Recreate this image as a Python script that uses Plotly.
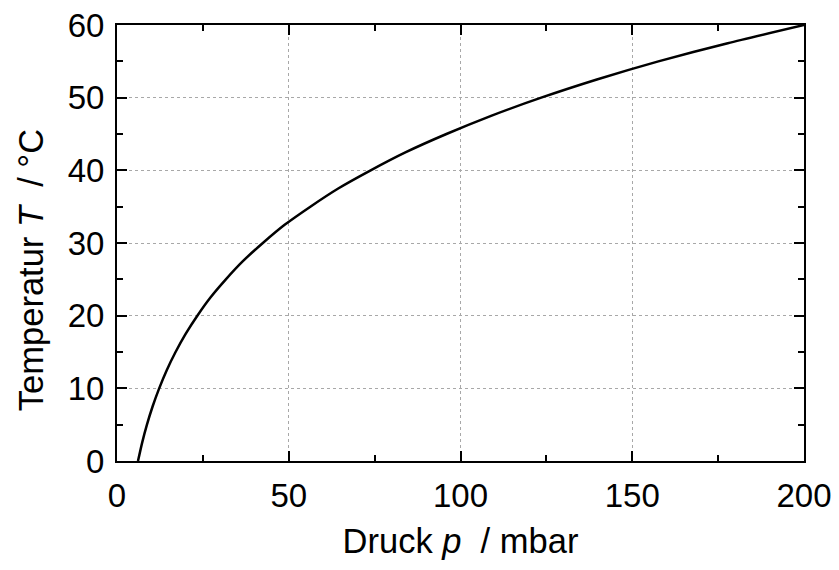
import plotly.graph_objects as go

# Saturation vapour pressure of water
temperature_c = [0, 2.5, 5, 7.5, 10, 12.5, 15, 17.5, 20, 22.5, 25, 27.5, 30,
                 32.5, 35, 37.5, 40, 42.5, 45, 47.5, 50, 52.5, 55, 57.5, 60]
pressure_mbar = [6.11, 7.31, 8.72, 10.36, 12.28, 14.48, 17.05, 19.98, 23.39, 27.2,
                 31.69, 36.65, 42.46, 48.8, 56.29, 64.4, 73.85, 84.1, 95.90, 108.9,
                 123.5, 139.7, 157.6, 177.8, 200.0]

x_ticks = [0, 50, 100, 150, 200]
y_ticks = [0, 10, 20, 30, 40, 50, 60]

FONT = "Liberation Sans, Arial, sans-serif"
FS = 33
FT = 34.5

fig = go.Figure()
fig.add_trace(go.Scatter(
    x=pressure_mbar, y=temperature_c, mode="lines",
    line=dict(color="black", width=2.5, shape="spline", smoothing=0.6),
    showlegend=False, hoverinfo="skip", cliponaxis=False,
))

axis_common = dict(
    showline=True, linecolor="black", linewidth=2, mirror="allticks",
    ticks="inside", ticklen=10, tickwidth=1.5, tickcolor="black",
    showgrid=True, gridcolor="#a8a8a8", griddash="dot", gridwidth=1,
    zeroline=False, automargin=False,
    tickfont=dict(family=FONT, size=FS, color="black"),
    minor=dict(ticks="inside", ticklen=6, tickwidth=1.5, tickcolor="black", showgrid=False),
)

fig.update_xaxes(
    range=[0, 200], tickvals=x_ticks, ticktext=[str(v) for v in x_ticks],
    minor_dtick=25, minor_tick0=0,
    title=dict(text="Druck <i>p</i>  / mbar", font=dict(family=FONT, size=FT, color="black"), standoff=16),
    ticklabelstandoff=4,
    **axis_common,
)
fig.update_yaxes(
    range=[0, 60], tickvals=y_ticks, ticktext=[str(v) for v in y_ticks],
    minor_dtick=5, minor_tick0=0,
    ticklabelstandoff=4,
    **axis_common,
)

fig.add_annotation(
    text="Temperatur <i>T</i>  / °C", textangle=-90,
    xref="paper", yref="paper", x=-0.125, y=0.438,
    xanchor="center", yanchor="middle", showarrow=False,
    font=dict(family=FONT, size=FT, color="black"),
)

fig.update_layout(
    width=839, height=570,
    margin=dict(l=117, r=35, t=25, b=109),
    paper_bgcolor="white", plot_bgcolor="white",
)

fig.write_html("out.html")
